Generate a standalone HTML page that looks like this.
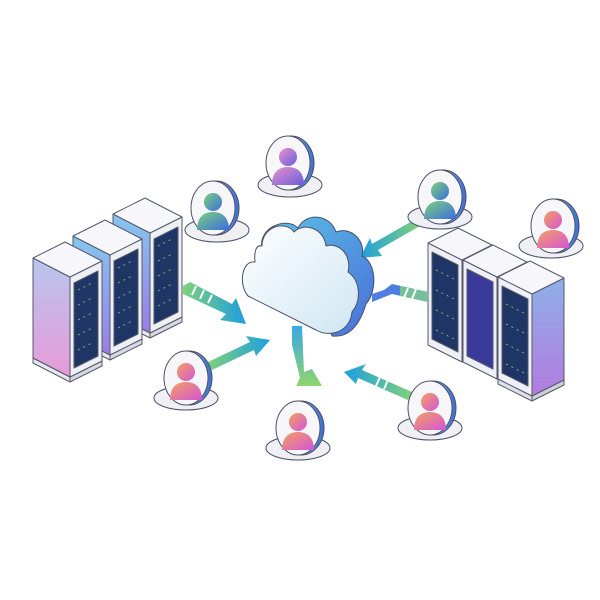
<!DOCTYPE html>
<html><head><meta charset="utf-8"><style>html,body{margin:0;padding:0;background:#fff}svg{display:block}</style></head>
<body>
<svg width="600" height="600" viewBox="0 0 600 600" xmlns="http://www.w3.org/2000/svg">
<defs>
<linearGradient id="pinkL" x1="0" y1="0" x2="0" y2="1"><stop offset="0" stop-color="#b8c6ee"/><stop offset="1" stop-color="#e79ad8"/></linearGradient>
<linearGradient id="blueR" x1="0" y1="0" x2="0" y2="1"><stop offset="0" stop-color="#8fb0e8"/><stop offset="1" stop-color="#b27be0"/></linearGradient>
<linearGradient id="sideB" x1="0" y1="0" x2="0" y2="1"><stop offset="0" stop-color="#86c6ee"/><stop offset="1" stop-color="#9a7de6"/></linearGradient>
<linearGradient id="cloudF" x1="0" y1="0" x2="1" y2="1"><stop offset="0" stop-color="#ffffff"/><stop offset="1" stop-color="#cfe6f2"/></linearGradient>
<linearGradient id="cloudS" x1="0" y1="0" x2="1" y2="1"><stop offset="0" stop-color="#5bc3e6"/><stop offset="1" stop-color="#4a6fd8"/></linearGradient>
<linearGradient id="arrG" x1="0" y1="0" x2="1" y2="0"><stop offset="0" stop-color="#7fd17a"/><stop offset="1" stop-color="#1d9ee0"/></linearGradient>
<linearGradient id="arrGr" x1="1" y1="0" x2="0" y2="0"><stop offset="0" stop-color="#7fd17a"/><stop offset="1" stop-color="#1d9ee0"/></linearGradient>
<linearGradient id="arrD" x1="0" y1="0" x2="0" y2="1"><stop offset="0" stop-color="#3aa9e4"/><stop offset="1" stop-color="#8ed56b"/></linearGradient>
<linearGradient id="pA" x1="0" y1="0" x2="1" y2="1"><stop offset="0" stop-color="#f5a05e"/><stop offset="1" stop-color="#d455d8"/></linearGradient>
<linearGradient id="pB" x1="0" y1="0" x2="1" y2="1"><stop offset="0" stop-color="#7fd07a"/><stop offset="1" stop-color="#3a6fe0"/></linearGradient>
<linearGradient id="pC" x1="0" y1="0" x2="1" y2="1"><stop offset="0" stop-color="#e891c8"/><stop offset="1" stop-color="#6a5ee0"/></linearGradient>
<linearGradient id="rim" x1="0" y1="0" x2="1" y2="0"><stop offset="0" stop-color="#a8d8f0"/><stop offset="1" stop-color="#3f6fd0"/></linearGradient>
</defs>

<g stroke="#555a6a" stroke-width="1" stroke-linejoin="round">
<g transform="translate(80,-44)">
 <polygon points="33,358 70,377 70,382 33,363" fill="#e7e7ee"/>
 <polygon points="70,377 102,361 102,366 70,382" fill="#d8d8e2"/>
 <polygon points="33,258 70,277 70,377 33,358" fill="url(#sideB)"/>
 <polygon points="70,277 102,261 102,361 70,377" fill="#eef0f6"/>
 <polygon points="74,283 98,271 98,356 74,368" fill="#1f3566"/>
 <polygon points="33,258 65,242 102,261 70,277" fill="#f7f7fb"/>
</g>
<g transform="translate(40,-22)">
 <polygon points="33,358 70,377 70,382 33,363" fill="#e7e7ee"/>
 <polygon points="70,377 102,361 102,366 70,382" fill="#d8d8e2"/>
 <polygon points="33,258 70,277 70,377 33,358" fill="url(#sideB)"/>
 <polygon points="70,277 102,261 102,361 70,377" fill="#eef0f6"/>
 <polygon points="74,283 98,271 98,356 74,368" fill="#1f3566"/>
 <polygon points="33,258 65,242 102,261 70,277" fill="#f7f7fb"/>
</g>
<g>
 <polygon points="33,358 70,377 70,382 33,363" fill="#e7e7ee"/>
 <polygon points="70,377 102,361 102,366 70,382" fill="#d8d8e2"/>
 <polygon points="33,258 70,277 70,377 33,358" fill="url(#pinkL)"/>
 <polygon points="70,277 102,261 102,361 70,377" fill="#eef0f6"/>
 <polygon points="74,283 98,271 98,356 74,368" fill="#1f3566"/>
 <polygon points="33,258 65,242 102,261 70,277" fill="#f7f7fb"/>
</g>
</g>
<g stroke="#8fd07a" stroke-width="1" stroke-dasharray="2 4" opacity="0.8">
 <line x1="78" y1="290" x2="94" y2="282"/><line x1="78" y1="305" x2="94" y2="297"/><line x1="78" y1="320" x2="94" y2="312"/><line x1="78" y1="335" x2="94" y2="327"/><line x1="78" y1="350" x2="94" y2="342"/>
 <line x1="118" y1="268" x2="134" y2="260"/><line x1="118" y1="283" x2="134" y2="275"/><line x1="118" y1="298" x2="134" y2="290"/><line x1="118" y1="313" x2="134" y2="305"/><line x1="118" y1="328" x2="134" y2="320"/>
 <line x1="158" y1="246" x2="174" y2="238"/><line x1="158" y1="261" x2="174" y2="253"/><line x1="158" y1="276" x2="174" y2="268"/><line x1="158" y1="291" x2="174" y2="283"/><line x1="158" y1="306" x2="174" y2="298"/>
</g>

<g stroke="#555a6a" stroke-width="1" stroke-linejoin="round">
<g>
 <polygon points="428,243 462,260 462,362 428,345" fill="#eef0f6"/>
 <polygon points="432,252 458,265 458,352 432,339" fill="#1f3566"/>
 <polygon points="462,260 492,245 492,347 462,362" fill="url(#blueR)"/>
 <polygon points="428,243 458,228 492,245 462,260" fill="#f7f7fb"/>
</g>
<g transform="translate(35,17)">
 <polygon points="428,243 462,260 462,362 428,345" fill="#eef0f6"/>
 <polygon points="432,252 458,265 458,352 432,339" fill="#3a3a9a"/>
 <polygon points="462,260 492,245 492,347 462,362" fill="url(#blueR)"/>
 <polygon points="428,243 458,228 492,245 462,260" fill="#f7f7fb"/>
</g>
<g transform="translate(70,34)">
 <polygon points="428,345 462,362 462,367 428,350" fill="#e0e0e8"/>
 <polygon points="462,362 494,346 494,351 462,367" fill="#d0d0da"/>
 <polygon points="428,243 462,260 462,362 428,345" fill="#eef0f6"/>
 <polygon points="432,252 458,265 458,352 432,339" fill="#1f3566"/>
 <polygon points="462,260 494,244 494,346 462,362" fill="url(#blueR)"/>
 <polygon points="428,243 460,227 494,244 462,260" fill="#f7f7fb"/>
</g>
</g>
<g stroke="#8fd07a" stroke-width="1" stroke-dasharray="2 4" opacity="0.8">
 <line x1="436" y1="270" x2="454" y2="279"/><line x1="436" y1="290" x2="454" y2="299"/><line x1="436" y1="310" x2="454" y2="319"/><line x1="436" y1="330" x2="454" y2="339"/>
 <line x1="506" y1="304" x2="524" y2="313"/><line x1="506" y1="324" x2="524" y2="333"/><line x1="506" y1="344" x2="524" y2="353"/><line x1="506" y1="364" x2="524" y2="373"/>
</g>

<polygon points="183,286 190,282 232,304 236,298 246,324 220,320 226,314 183,294" fill="url(#arrG)"/>
<g stroke="#fff" stroke-width="2"><line x1="196" y1="286" x2="192" y2="295"/><line x1="204" y1="290" x2="200" y2="299"/><line x1="212" y1="295" x2="208" y2="303"/></g>
<polygon points="208,362 250,342 246,336 270,340 256,356 254,350 212,370" fill="url(#arrG)"/>
<polygon points="292,326 302,326 304,372 312,369 322,386 296,386 300,378 292,345" fill="url(#arrD)"/>
<polygon points="412,392 362,370 366,364 344,372 356,384 358,378 408,400" fill="url(#arrGr)"/>
<g stroke="#fff" stroke-width="2"><line x1="388" y1="380" x2="384" y2="389"/><line x1="380" y1="377" x2="376" y2="386"/></g>
<polygon points="420,226 378,250 382,256 360,258 370,238 372,244 414,220" fill="url(#arrGr)"/>
<polygon points="428,292 392,284 384,290 372,294 372,302 392,294 428,302" fill="#4f7ee0"/>
<polygon points="400,286 428,292 428,302 400,296" fill="#7fcf86" opacity="0.8"/>
<g stroke="#fff" stroke-width="2"><line x1="408" y1="288" x2="404" y2="298"/><line x1="416" y1="289" x2="412" y2="299"/></g>

<g stroke="#4a5068" stroke-width="1" stroke-linejoin="round">
 <path d="M262,248 C258,228 286,216 298,228 C306,212 330,214 336,232 C350,226 366,240 362,256 C376,262 378,290 366,304 C360,324 350,338 332,336 L330,330 Z" fill="url(#cloudS)"/>
 <path d="M255,262 C242,260 238,284 248,296 L316,330 C330,338 350,332 352,312 C362,300 360,280 348,272 C352,256 340,242 326,246 C324,228 304,222 294,232 C286,220 262,226 262,246 C256,244 254,252 255,262 Z" fill="url(#cloudF)"/>
</g>

<g stroke="#4a5068" stroke-width="1">
 <g transform="translate(288,163)">
  <ellipse cx="2" cy="22" rx="32" ry="12" fill="#f0f0f4"/>
  <ellipse cx="3" cy="0" rx="23" ry="27" fill="url(#rim)"/>
  <ellipse cx="0" cy="0" rx="22" ry="27" fill="#f7f7fa"/>
  <circle cx="0" cy="-6" r="9" fill="url(#pC)" stroke="none"/>
  <path d="M-16,22 C-16,8 -8,4 0,4 C8,4 16,8 16,22 Z" fill="url(#pC)" stroke="none"/>
 </g>
 <g transform="translate(213,208)">
  <ellipse cx="4" cy="22" rx="32" ry="12" fill="#f0f0f4"/>
  <ellipse cx="3" cy="0" rx="23" ry="27" fill="url(#rim)"/>
  <ellipse cx="0" cy="0" rx="22" ry="27" fill="#f7f7fa"/>
  <circle cx="0" cy="-6" r="9" fill="url(#pB)" stroke="none"/>
  <path d="M-16,22 C-16,8 -8,4 0,4 C8,4 16,8 16,22 Z" fill="url(#pB)" stroke="none"/>
 </g>
 <g transform="translate(440,197)">
  <ellipse cx="0" cy="20" rx="32" ry="12" fill="#f0f0f4"/>
  <ellipse cx="3" cy="0" rx="23" ry="27" fill="url(#rim)"/>
  <ellipse cx="0" cy="0" rx="22" ry="27" fill="#f7f7fa"/>
  <circle cx="0" cy="-6" r="9" fill="url(#pB)" stroke="none"/>
  <path d="M-16,22 C-16,8 -8,4 0,4 C8,4 16,8 16,22 Z" fill="url(#pB)" stroke="none"/>
 </g>
 <g transform="translate(553,226)">
  <ellipse cx="-2" cy="20" rx="32" ry="12" fill="#f0f0f4"/>
  <ellipse cx="3" cy="0" rx="23" ry="27" fill="url(#rim)"/>
  <ellipse cx="0" cy="0" rx="22" ry="27" fill="#f7f7fa"/>
  <circle cx="0" cy="-6" r="9" fill="url(#pA)" stroke="none"/>
  <path d="M-16,22 C-16,8 -8,4 0,4 C8,4 16,8 16,22 Z" fill="url(#pA)" stroke="none"/>
 </g>
 <g transform="translate(186,378)">
  <ellipse cx="0" cy="20" rx="32" ry="12" fill="#f0f0f4"/>
  <ellipse cx="3" cy="0" rx="23" ry="27" fill="url(#rim)"/>
  <ellipse cx="0" cy="0" rx="22" ry="27" fill="#f7f7fa"/>
  <circle cx="0" cy="-6" r="9" fill="url(#pA)" stroke="none"/>
  <path d="M-16,22 C-16,8 -8,4 0,4 C8,4 16,8 16,22 Z" fill="url(#pA)" stroke="none"/>
 </g>
 <g transform="translate(298,428)">
  <ellipse cx="0" cy="20" rx="32" ry="12" fill="#f0f0f4"/>
  <ellipse cx="3" cy="0" rx="23" ry="27" fill="url(#rim)"/>
  <ellipse cx="0" cy="0" rx="22" ry="27" fill="#f7f7fa"/>
  <circle cx="0" cy="-6" r="9" fill="url(#pA)" stroke="none"/>
  <path d="M-16,22 C-16,8 -8,4 0,4 C8,4 16,8 16,22 Z" fill="url(#pA)" stroke="none"/>
 </g>
 <g transform="translate(430,408)">
  <ellipse cx="0" cy="20" rx="32" ry="12" fill="#f0f0f4"/>
  <ellipse cx="3" cy="0" rx="23" ry="27" fill="url(#rim)"/>
  <ellipse cx="0" cy="0" rx="22" ry="27" fill="#f7f7fa"/>
  <circle cx="0" cy="-6" r="9" fill="url(#pA)" stroke="none"/>
  <path d="M-16,22 C-16,8 -8,4 0,4 C8,4 16,8 16,22 Z" fill="url(#pA)" stroke="none"/>
 </g>
</g>
</svg>
</body></html>
